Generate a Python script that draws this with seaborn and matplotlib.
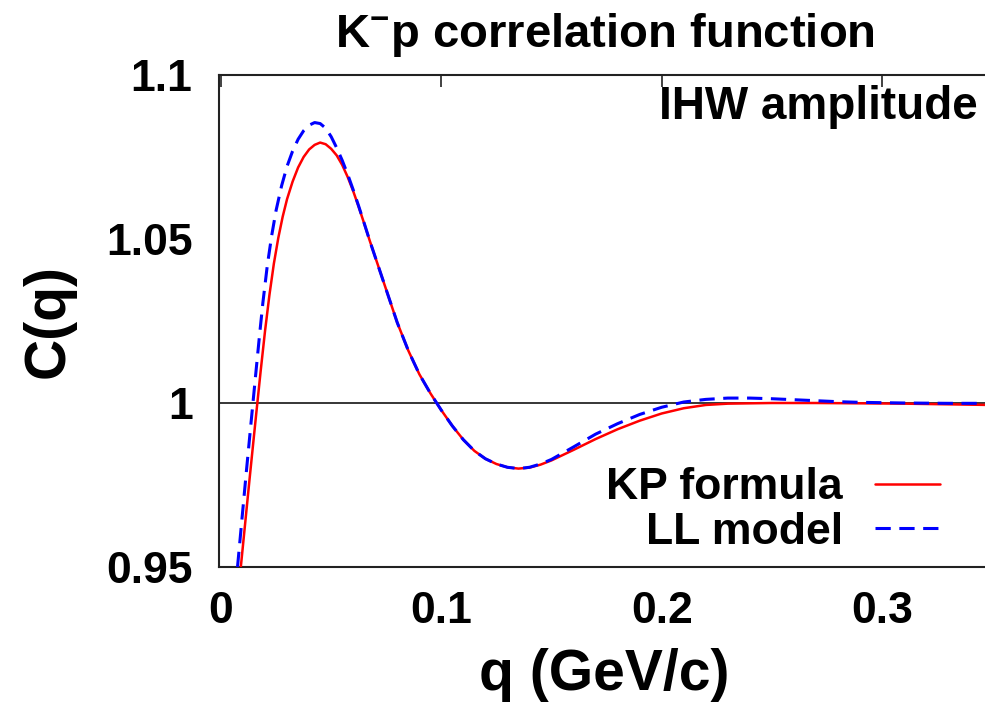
import matplotlib
matplotlib.use("Agg")
import matplotlib.pyplot as plt
import seaborn as sns
import pandas as pd

# ---------------- data ----------------
q_kp = [0.0090, 0.0110, 0.0130, 0.0150, 0.0165, 0.0180, 0.0200, 0.0220, 0.0240,
        0.0260, 0.0280, 0.0300, 0.0325, 0.0350, 0.0375, 0.0400, 0.0425, 0.0450,
        0.0475, 0.0500, 0.0525, 0.0550, 0.0575, 0.0600, 0.0625, 0.0650, 0.0675,
        0.0700, 0.0750, 0.0800, 0.0850, 0.0900, 0.0950, 0.1000, 0.1050, 0.1100,
        0.1150, 0.1200, 0.1250, 0.1300, 0.1350, 0.1400, 0.1450, 0.1500, 0.1600,
        0.1700, 0.1800, 0.1900, 0.2000, 0.2100, 0.2200, 0.2300, 0.2500, 0.2700,
        0.2900, 0.3100, 0.3300, 0.3490]
c_kp = [0.9500, 0.9635, 0.9770, 0.9902, 1.0000, 1.0097, 1.0220, 1.0330, 1.0425,
        1.0503, 1.0568, 1.0622, 1.0675, 1.0718, 1.0750, 1.0773, 1.0787, 1.0794,
        1.0789, 1.0775, 1.0755, 1.0726, 1.0689, 1.0646, 1.0598, 1.0547, 1.0495,
        1.0445, 1.0345, 1.0245, 1.0160, 1.0088, 1.0030, 0.9978, 0.9930, 0.9888,
        0.9854, 0.9830, 0.9814, 0.9804, 0.9800, 0.9803, 0.9812, 0.9825, 0.9857,
        0.9890, 0.9920, 0.9946, 0.9968, 0.9984, 0.9994, 0.9998, 1.0000, 1.0000,
        0.9999, 0.9998, 0.9996, 0.9994]

q_ll = [0.0075, 0.0095, 0.0115, 0.0130, 0.0145, 0.0160, 0.0175, 0.0190, 0.0210,
        0.0230, 0.0250, 0.0275, 0.0300, 0.0325, 0.0350, 0.0375, 0.0400, 0.0425,
        0.0450, 0.0475, 0.0500, 0.0525, 0.0550, 0.0575, 0.0600, 0.0625, 0.0650,
        0.0675, 0.0700, 0.0750, 0.0800, 0.0850, 0.0900, 0.0950, 0.1000, 0.1050,
        0.1100, 0.1150, 0.1200, 0.1250, 0.1300, 0.1350, 0.1400, 0.1450, 0.1500,
        0.1600, 0.1700, 0.1800, 0.1900, 0.2000, 0.2100, 0.2200, 0.2300, 0.2400,
        0.2500, 0.2600, 0.2700, 0.2800, 0.2900, 0.3100, 0.3300, 0.3490]
c_ll = [0.9500, 0.9645, 0.9790, 0.9895, 1.0000, 1.0104, 1.0207, 1.0305, 1.0418,
        1.0510, 1.0587, 1.0662, 1.0722, 1.0768, 1.0804, 1.0830, 1.0847, 1.0855,
        1.0852, 1.0838, 1.0812, 1.0778, 1.0740, 1.0697, 1.0650, 1.0600, 1.0548,
        1.0495, 1.0445, 1.0345, 1.0245, 1.0160, 1.0088, 1.0030, 0.9978, 0.9930,
        0.9888, 0.9854, 0.9830, 0.9814, 0.9804, 0.9800, 0.9804, 0.9814, 0.9828,
        0.9866, 0.9905, 0.9937, 0.9965, 0.9987, 1.0003, 1.0011, 1.0015, 1.0015,
        1.0013, 1.0010, 1.0007, 1.0004, 1.0002, 1.0000, 0.9999, 0.9999]

series_names = ["KP formula", "LL model"]
x_ticks = [0.0, 0.1, 0.2, 0.3]
x_tick_labels = ["0", "0.1", "0.2", "0.3"]
y_ticks = [0.95, 1.0, 1.05, 1.1]
y_tick_labels = ["0.95", "1", "1.05", "1.1"]

title_text = "K$^{-}$p correlation function"
x_label = "q (GeV/c)"
y_label = "C(q)"
note_text = "IHW amplitude"

# ---------------- style ----------------
sns.set_theme(style="white")
plt.rcParams["font.family"] = ["Liberation Sans", "DejaVu Sans"]
plt.rcParams["font.weight"] = "bold"
plt.rcParams["text.color"] = "black"
plt.rcParams["axes.labelcolor"] = "black"
plt.rcParams["xtick.color"] = "black"
plt.rcParams["ytick.color"] = "black"
plt.rcParams["mathtext.fontset"] = "custom"
plt.rcParams["mathtext.rm"] = "Liberation Sans:bold"
plt.rcParams["mathtext.bf"] = "Liberation Sans:bold"
plt.rcParams["mathtext.it"] = "Liberation Sans:bold"
plt.rcParams["mathtext.sf"] = "Liberation Sans:bold"

W, H = 985, 702
fig = plt.figure(figsize=(W / 100, H / 100), dpi=100)
ax = fig.add_axes([219 / W, (H - 567) / H, (990 - 219) / W, 492 / H])

df_kp = pd.DataFrame({"q": q_kp, "C": c_kp})
df_ll = pd.DataFrame({"q": q_ll, "C": c_ll})

ax.axhline(1.0, color="black", lw=1.1, zorder=1)
sns.lineplot(data=df_kp, x="q", y="C", ax=ax, color="#ff0000", lw=1.8,
             label=series_names[0], estimator=None, zorder=3)
sns.lineplot(data=df_ll, x="q", y="C", ax=ax, color="#0000ff", lw=2.2,
             label=series_names[1], estimator=None, zorder=4)
ax.lines[-1].set_dashes([5, 2.8])

ax.set_xlim(-0.0009, 0.349)
ax.set_ylim(0.95, 1.1)
ax.set_xticks(x_ticks)
ax.set_xticklabels(x_tick_labels)
ax.set_yticks(y_ticks)
ax.set_yticklabels(y_tick_labels)
ax.tick_params(axis="both", which="major", direction="in", length=8.5, width=1.2,
               color="#222222", labelcolor="black", labelsize=32,
               top=True, right=False)
ax.tick_params(axis="y", pad=19)
ax.tick_params(axis="x", pad=17)
for lab in ax.get_xticklabels() + ax.get_yticklabels():
    lab.set_fontweight("bold")
for sp in ax.spines.values():
    sp.set_linewidth(1.5)
    sp.set_color("#222222")

ax.set_xlabel(x_label, fontsize=41, fontweight="bold", labelpad=12, color="black")
ax.set_ylabel(y_label, fontsize=41, fontweight="bold", labelpad=22, color="black")
ax.set_title(title_text, fontsize=34, fontweight="bold", pad=20, color="black")

ax.text(0.984, 0.935, note_text, transform=ax.transAxes, ha="right", va="center",
        fontsize=33, fontweight="bold", color="black")

handles, labels = ax.get_legend_handles_labels()
leg = ax.legend(handles, labels, loc="center right", bbox_to_anchor=(0.9347, 0.1159),
                frameon=False, markerfirst=False, fontsize=32, handlelength=1.46,
                handletextpad=0.72, labelspacing=0.08, borderpad=0, borderaxespad=0)
for t in leg.get_texts():
    t.set_fontweight("bold")
    t.set_color("black")

fig.savefig("out.png", dpi=100)
